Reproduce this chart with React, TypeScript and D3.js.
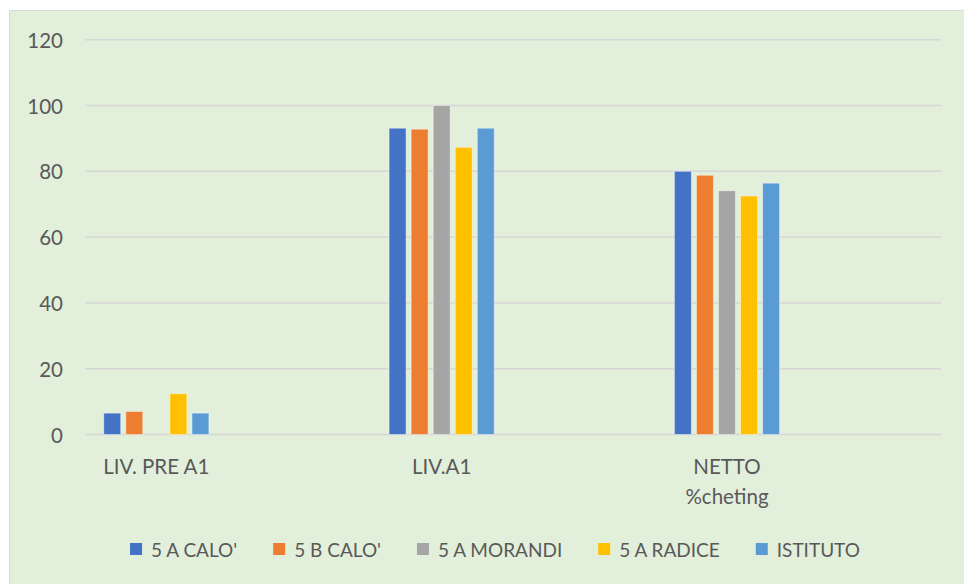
import React, { useEffect, useRef } from "react";
import * as d3 from "d3";

const categories = ["LIV. PRE A1", "LIV.A1", "NETTO %cheting"];
const categoryLines = [["LIV. PRE A1"], ["LIV.A1"], ["NETTO", "%cheting"]];
const seriesNames = ["5 A CALO'", "5 B CALO'", "5 A MORANDI", "5 A RADICE", "ISTITUTO"];
const seriesColors = ["#4472C4", "#ED7D31", "#A5A5A5", "#FFC000", "#5B9BD5"];
const calo5A = [6.5, 93.1, 80];
const calo5B = [7.0, 92.8, 78.8];
const morandi5A = [null, 100, 74.1];
const radice5A = [12.4, 87.3, 72.5];
const istituto = [6.5, 93.1, 76.4];
const seriesValues = [calo5A, calo5B, morandi5A, radice5A, istituto];
const yTicks = [0, 20, 40, 60, 80, 100, 120];

const W = 964;
const H = 584;

export default function App() {
  const ref = useRef<SVGSVGElement | null>(null);

  useEffect(() => {
    const svg = d3.select(ref.current);
    svg.selectAll("*").remove();
    const font = "Lato, 'Open Sans', sans-serif";
    const textColor = "#595959";

    svg.append("rect")
      .attr("x", 9.5).attr("y", 10.5)
      .attr("width", W).attr("height", H)
      .attr("fill", "#E2EFDA")
      .attr("stroke", "#D9D9D9").attr("stroke-width", 1);

    const left = 85, right = 941, top = 39.7, bottom = 434.5;
    const y = d3.scaleLinear().domain([0, 120]).range([bottom, top]);
    const x = d3.scaleBand<string>().domain(categories).range([left, right]);
    const inner = d3.scaleBand<string>()
      .domain(seriesNames)
      .range([0, x.bandwidth() / 2])
      .paddingInner(0.23)
      .paddingOuter(0.85);

    // gridlines
    svg.append("g").selectAll("line").data(yTicks).join("line")
      .attr("x1", left).attr("x2", right)
      .attr("y1", (d) => y(d)).attr("y2", (d) => y(d))
      .attr("stroke", "#D6D6D6").attr("stroke-width", 1.5);

    svg.append("g").selectAll("text").data(yTicks).join("text")
      .attr("x", 63).attr("y", (d) => y(d))
      .attr("text-anchor", "end").attr("dominant-baseline", "central")
      .attr("font-family", font).attr("font-size", 20.5).attr("fill", textColor)
      .text((d) => String(d));

    // bars
    seriesNames.forEach((s, si) => {
      const vals = seriesValues[si];
      const data = categories.map((c, ci) => ({ c, v: vals[ci] })).filter((d) => d.v != null);
      svg.append("g").selectAll("rect").data(data).join("rect")
        .attr("x", (d) => (x(d.c) as number) + (inner(s) as number))
        .attr("width", inner.bandwidth())
        .attr("y", (d) => y(d.v as number))
        .attr("height", (d) => y(0) - y(d.v as number))
        .attr("fill", seriesColors[si])
        .attr("stroke", "rgba(255,255,255,0.45)")
        .attr("stroke-width", 1);
    });

    // category labels centered under clusters
    const clusterCenter = (c: string) => {
      const first = inner(seriesNames[0]) as number;
      const last = (inner(seriesNames[seriesNames.length - 1]) as number) + inner.bandwidth();
      return (x(c) as number) + (first + last) / 2;
    };
    categories.forEach((c, ci) => {
      const t = svg.append("text")
        .attr("text-anchor", "middle")
        .attr("font-family", font).attr("font-size", 20.5).attr("fill", textColor);
      categoryLines[ci].forEach((line, li) => {
        t.append("tspan").attr("x", clusterCenter(c)).attr("y", 474 + li * 29.5).text(line);
      });
    });

    // legend
    const lg = svg.append("g");
    const items = seriesNames.map((s, i) => {
      const g = lg.append("g");
      g.append("rect").attr("x", 0).attr("y", 543).attr("width", 12).attr("height", 12).attr("fill", seriesColors[i]);
      const t = g.append("text")
        .attr("x", 21).attr("y", 549).attr("dominant-baseline", "central")
        .attr("font-family", font).attr("font-size", 19).attr("fill", textColor)
        .text(s);
      const w = (t.node() as SVGTextElement).getComputedTextLength();
      return { g, w: 21 + w };
    });
    const gap = 36;
    const total = d3.sum(items, (d) => d.w) + gap * (items.length - 1);
    let cx = 495 - total / 2;
    items.forEach((it) => {
      it.g.attr("transform", `translate(${cx},0)`);
      cx += it.w + gap;
    });
  }, []);

  return (
    <svg
      ref={ref}
      width={W}
      height={H}
      style={{ position: "absolute", left: 0, top: 0, display: "block" }}
    />
  );
}
